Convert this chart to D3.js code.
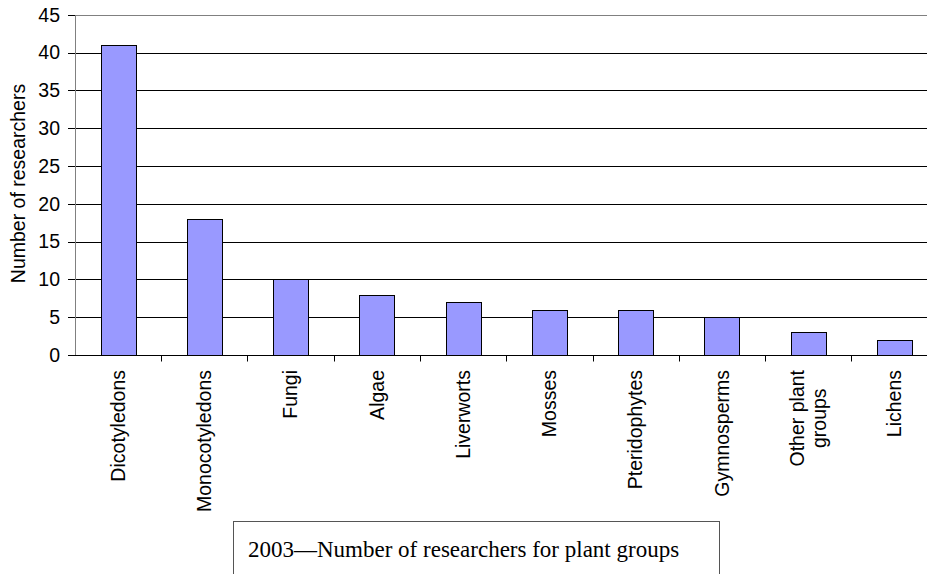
<!DOCTYPE html>
<html>
<head>
<meta charset="utf-8">
<script src="https://cdn.jsdelivr.net/npm/d3@7"></script>
<style>
  html, body { margin: 0; padding: 0; background: #fff; }
  svg { display: block; }
</style>
</head>
<body>
<svg id="chart" width="927" height="574"></svg>
<script>
const categories = ["Dicotyledons", "Monocotyledons", "Fungi", "Algae", "Liverworts", "Mosses", "Pteridophytes", "Gymnosperms", "Other plant\ngroups", "Lichens"];
const values = [41, 18, 10, 8, 7, 6, 6, 5, 3, 2];
const yTicks = [0, 5, 10, 15, 20, 25, 30, 35, 40, 45];
const yTitle = "Number of researchers";
const chartTitle = "2003\u2014Number of researchers for plant groups";

const svg = d3.select("#chart");
const sans = "'Liberation Sans', Arial, sans-serif";
const serif = "'Liberation Serif', 'Times New Roman', serif";
const fs = 19.5;

const plotL = 75, plotR = 937.5, plotT = 14.7, plotB = 355;

const x = d3.scaleBand().domain(categories).range([plotL, plotR])
  .paddingInner(0.594).paddingOuter(0.297);
const y = d3.scaleLinear().domain([0, 45]).range([plotB, plotT]);
const step = x.step();

// gridlines
svg.append("g").selectAll("line").data(yTicks.filter(d => d > 0)).join("line")
  .attr("x1", plotL).attr("x2", 927)
  .attr("y1", d => Math.round(y(d)) + 0.5).attr("y2", d => Math.round(y(d)) + 0.5)
  .attr("stroke", d => d === 45 ? "#808080" : "#000").attr("stroke-width", 1);

// bars
svg.append("g").selectAll("rect").data(values).join("rect")
  .attr("x", (d, i) => Math.round(x(categories[i])) + 0.5)
  .attr("y", d => Math.round(y(d)) + 0.5)
  .attr("width", Math.round(x.bandwidth()))
  .attr("height", d => Math.round(y(0)) - Math.round(y(d)))
  .attr("fill", "#9999FF").attr("stroke", "#000").attr("stroke-width", 1);

// y axis line
svg.append("line").attr("x1", plotL + 0.5).attr("x2", plotL + 0.5)
  .attr("y1", Math.round(plotT) + 0.5).attr("y2", Math.round(plotB) + 0.5)
  .attr("stroke", "#808080");

// x axis line
svg.append("line").attr("x1", plotL).attr("x2", 927)
  .attr("y1", Math.round(plotB) + 0.5).attr("y2", Math.round(plotB) + 0.5)
  .attr("stroke", "#000");

// y ticks and labels
const yg = svg.append("g");
yg.selectAll("line").data(yTicks).join("line")
  .attr("x1", plotL - 7).attr("x2", plotL)
  .attr("y1", d => Math.round(y(d)) + 0.5).attr("y2", d => Math.round(y(d)) + 0.5)
  .attr("stroke", "#000");
yg.selectAll("text").data(yTicks).join("text")
  .attr("x", 60).attr("y", d => y(d)).attr("dy", "0.35em")
  .attr("text-anchor", "end").attr("font-family", sans).attr("font-size", fs)
  .attr("fill", "#000").text(d => d);

// x ticks at band boundaries
svg.append("g").selectAll("line").data(categories).join("line")
  .attr("x1", d => Math.round(x(d) + x.bandwidth() / 2 + step / 2) + 0.5)
  .attr("x2", d => Math.round(x(d) + x.bandwidth() / 2 + step / 2) + 0.5)
  .attr("y1", plotB).attr("y2", plotB + 6.5)
  .attr("stroke", "#000");

// x labels (rotated)
const xl = svg.append("g");
categories.forEach((c) => {
  const lines = c.split("\n");
  const cx = x(c) + x.bandwidth() / 2;
  const t = xl.append("text")
    .attr("font-family", sans).attr("font-size", fs).attr("fill", "#000")
    .attr("text-anchor", "middle");
  lines.forEach((ln, j) => {
    t.append("tspan").attr("x", 0)
      .attr("dy", j === 0 ? (0.35 - (lines.length - 1) * 0.58) + "em" : "1.16em")
      .text(ln);
  });
  let maxLen = 0;
  t.selectAll("tspan").each(function () { maxLen = Math.max(maxLen, this.getComputedTextLength()); });
  t.attr("transform", `translate(${cx},${370 + maxLen / 2}) rotate(-90)`);
});

// y title
svg.append("text")
  .attr("transform", `translate(25,183.5) rotate(-90)`)
  .attr("text-anchor", "middle").attr("font-family", sans).attr("font-size", fs)
  .attr("fill", "#000").text(yTitle);

// title box
svg.append("rect").attr("x", 233.5).attr("y", 521.5).attr("width", 486).attr("height", 80)
  .attr("fill", "#fff").attr("stroke", "#555").attr("stroke-width", 1);
svg.append("text").attr("x", 248).attr("y", 557)
  .attr("font-family", serif).attr("font-size", 23).attr("fill", "#000")
  .text(chartTitle);
</script>
</body>
</html>
